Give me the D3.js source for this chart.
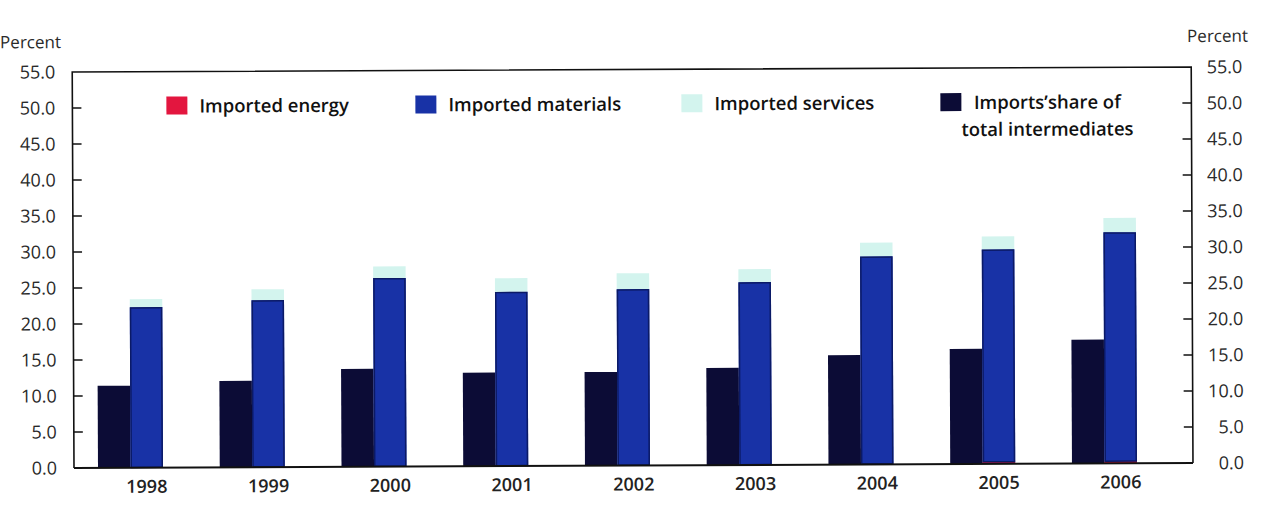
<!DOCTYPE html>
<html>
<head>
<meta charset="utf-8">
<script src="https://cdn.jsdelivr.net/npm/d3@7"></script>
<style>
  body { margin: 0; background: #fff; }
  svg text { font-family: "Open Sans", sans-serif; fill: #222; }
  .tick-label { font-size: 18px; fill: #2a2a2a; }
  .axis-title { font-size: 17px; fill: #2a2a2a; }
  .year-label { font-size: 18px; font-weight: 600; }
  .legend-text { font-size: 18.5px; font-weight: 600; fill: #111; }
</style>
</head>
<body>
<svg width="1269" height="525"></svg>
<script>
// values (percent)
const years = ["1998", "1999", "2000", "2001", "2002", "2003", "2004", "2005", "2006"];
const importsShare = [11.4, 12.0, 13.6, 13.0, 13.0, 13.5, 15.2, 16.0, 17.2];
const energy = [0.05, 0.05, 0.05, 0.05, 0.05, 0.05, 0.1, 0.3, 0.3];
const materials = [22.25, 23.15, 26.15, 24.15, 24.45, 25.35, 28.8, 29.5, 31.8];
const services = [1.1, 1.5, 1.6, 1.9, 2.2, 1.8, 1.9, 1.8, 2.0];
const yTicks = [0, 5, 10, 15, 20, 25, 30, 35, 40, 45, 50, 55];

const colors = {
    energy: "#e3163f",
    materials: "#1832a6",
    services: "#d3f4ee",
    share: "#0c0c36"
};

const margin = { left: 74, right: 1193, top: 72, bottom: 468 };

const svg = d3.select("svg");
// the scan is tilted a little, so the whole chart is turned with it
const g = svg.append("g")
    .attr("transform", `rotate(-0.256, ${margin.left}, ${margin.bottom})`);

const y = d3.scaleLinear().domain([0, 55]).range([margin.bottom, margin.top]);

const x0 = d3.scaleBand().domain(years).range([98, 1137]).paddingInner(0.466).paddingOuter(0);
const x1 = d3.scaleBand().domain(["share", "stack"]).range([0, x0.bandwidth()]);

const rows = years.map((yr, i) => ({
    year: yr,
    share: importsShare[i],
    energy: energy[i],
    materials: materials[i],
    services: services[i]
}));

const stack = d3.stack().keys(["energy", "materials", "services"])(rows);

// imports' share of total intermediates
g.append("g").selectAll("rect")
    .data(rows)
    .join("rect")
    .attr("x", d => x0(d.year) + x1("share"))
    .attr("y", d => y(d.share))
    .attr("width", x1.bandwidth())
    .attr("height", d => y(0) - y(d.share))
    .attr("fill", colors.share);

// stacked energy / materials / services
g.append("g").selectAll("g")
    .data(stack)
    .join("g")
    .attr("fill", d => colors[d.key])
    .selectAll("rect")
    .data(d => d)
    .join("rect")
    .attr("x", d => x0(d.data.year) + x1("stack"))
    .attr("y", d => y(d[1]))
    .attr("width", x1.bandwidth())
    .attr("height", d => y(d[0]) - y(d[1]));

// thin dark edge round the materials part
g.append("g").selectAll("rect")
    .data(stack[1])
    .join("rect")
    .attr("x", d => x0(d.data.year) + x1("stack") + 0.75)
    .attr("y", d => y(d[1]) + 0.75)
    .attr("width", x1.bandwidth() - 1.5)
    .attr("height", d => y(d[0]) - y(d[1]) - 0.75)
    .attr("fill", "none")
    .attr("stroke", "#0b1a66")
    .attr("stroke-width", 1.5);

// frame: left axis, top, right axis, baseline
const frame = g.append("g").attr("stroke", "#111").attr("fill", "none");
frame.append("path")
    .attr("d", `M${margin.left},${margin.bottom}V${margin.top}H${margin.right}V${margin.bottom}`)
    .attr("stroke-width", 1.6);
frame.append("line")
    .attr("x1", margin.left).attr("x2", margin.right)
    .attr("y1", y(0)).attr("y2", y(0))
    .attr("stroke-width", 2);

// left axis ticks and labels
const leftAxis = g.append("g");
leftAxis.selectAll("line")
    .data(yTicks.slice(1, -1))
    .join("line")
    .attr("x1", margin.left).attr("x2", margin.left + 9)
    .attr("y1", d => y(d)).attr("y2", d => y(d))
    .attr("stroke", "#111").attr("stroke-width", 1.5);
leftAxis.selectAll("text")
    .data(yTicks)
    .join("text")
    .attr("class", "tick-label")
    .attr("x", 57)
    .attr("y", d => y(d))
    .attr("dy", "0.35em")
    .attr("text-anchor", "end")
    .text(d => d.toFixed(1));

// right axis ticks and labels
const rightAxis = g.append("g");
rightAxis.selectAll("line")
    .data(yTicks.slice(1, -1))
    .join("line")
    .attr("x1", margin.right - 9).attr("x2", margin.right)
    .attr("y1", d => y(d)).attr("y2", d => y(d))
    .attr("stroke", "#111").attr("stroke-width", 1.5);
rightAxis.selectAll("text")
    .data(yTicks)
    .join("text")
    .attr("class", "tick-label")
    .attr("x", 1244)
    .attr("y", d => y(d))
    .attr("dy", "0.35em")
    .attr("text-anchor", "end")
    .text(d => d.toFixed(1));

g.append("text").attr("class", "axis-title")
    .attr("x", 2).attr("y", 48).text("Percent");
g.append("text").attr("class", "axis-title")
    .attr("x", 1189).attr("y", 47).text("Percent");

// year labels, centred on the stacked bar
g.append("g").selectAll("text")
    .data(years)
    .join("text")
    .attr("class", "year-label")
    .attr("x", d => x0(d) + x1("stack") + x1.bandwidth() / 2)
    .attr("y", 493)
    .attr("text-anchor", "middle")
    .text(d => d);

// legend
const legendItems = [
    { key: "energy", x: 168, label: ["Imported energy"] },
    { key: "materials", x: 417, label: ["Imported materials"] },
    { key: "services", x: 683, label: ["Imported services"] },
    { key: "share", x: 942, label: ["Imports\u2019share of", "total intermediates"] }
];
const legend = g.append("g");
legendItems.forEach(item => {
    legend.append("rect")
        .attr("x", item.x).attr("y", 97)
        .attr("width", 21).attr("height", 18)
        .attr("fill", colors[item.key]);
    if (item.label.length === 1) {
        legend.append("text").attr("class", "legend-text")
            .attr("x", item.x + 33).attr("y", 113)
            .text(item.label[0]);
    } else {
        legend.append("text").attr("class", "legend-text")
            .attr("x", 1049).attr("y", 113)
            .attr("text-anchor", "middle")
            .selectAll("tspan")
            .data(item.label)
            .join("tspan")
            .attr("x", 1049)
            .attr("dy", (d, i) => i === 0 ? 0 : 27)
            .text(d => d);
    }
});
</script>
</body>
</html>
